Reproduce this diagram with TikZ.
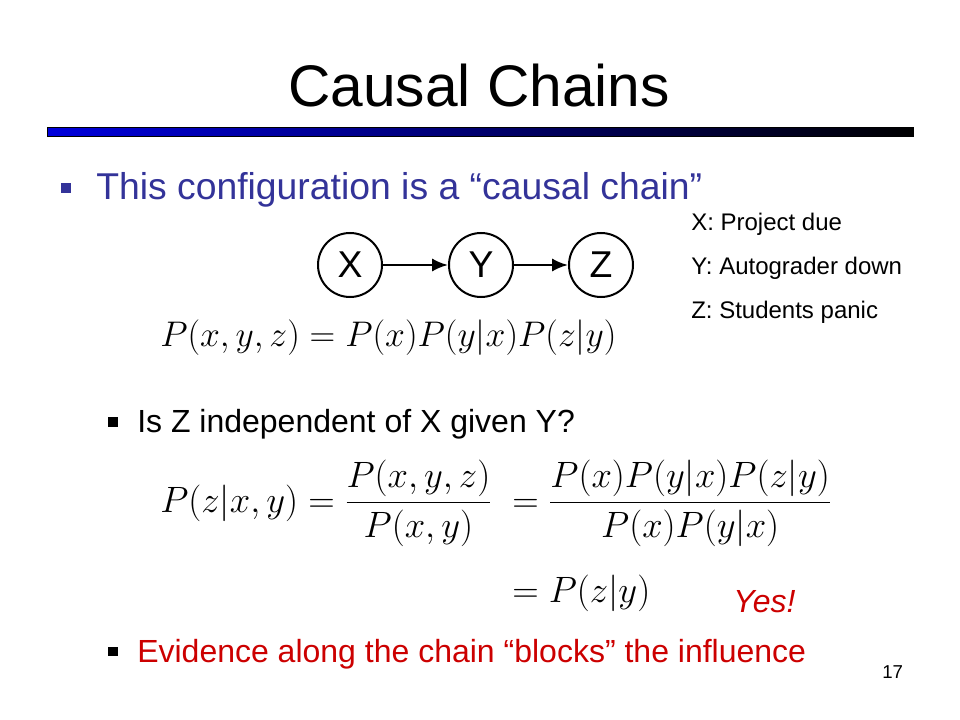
\RequirePackage{fix-cm}
\documentclass[tikz,border=0pt]{standalone}
\usepackage[no-math]{fontspec}
\setmainfont{Liberation Sans}
\usepackage{amsmath}
\usepackage{xcolor}
\usetikzlibrary{arrows.meta}
\definecolor{slideblue}{RGB}{51,51,153}
\definecolor{slidered}{RGB}{204,0,0}
\definecolor{barblue}{RGB}{0,0,220}
\tikzset{
    every node/.style={inner sep=0pt, font=\fontsize{24}{29}\selectfont},
    var/.style={draw, circle, line width=1.5pt, minimum size=48pt, font=\fontsize{28}{34}\selectfont},
    link/.style={-{Latex[length=12pt,width=10pt]}, line width=2pt},
    eq/.style={font=\fontsize{27.5}{33}\selectfont},
    legend/.style={font=\fontsize{18}{22}\selectfont, anchor=base west}
}

\begin{document}
\begin{tikzpicture}[x=0.75pt, y=-0.75pt]
    \useasboundingbox (0,0) rectangle (960,720);

    % Title and bar
    \node[anchor=base, font=\fontsize{44}{53}\selectfont] (title) at (479,107) {Causal Chains};
    \draw[left color=barblue, right color=black, line width=0.75pt] (47,128) rectangle (913,137);

    % First bullet
    \fill[slideblue] (61,183) rectangle (71,193);
    \node[anchor=base west, text=slideblue, font=\fontsize{28}{34}\selectfont] (intro) at (96,200) {This configuration is a “causal chain”};

    % Draw chain
    \node[var] (X) at (350,265) {X};
    \node[var] (Y) at (481,265) {Y};
    \node[var] (Z) at (601,265) {Z};
    \draw[link] (X) -- (Y);
    \draw[link] (Y) -- (Z);

    % Legend
    \foreach \y/\txt in {231/X: Project due, 275/Y: Autograder down, 318/Z: Students panic} {
        \node[legend] at (691,\y) {\txt};
    }

    % Joint distribution
    \node[eq, anchor=base west, font=\fontsize{26.7}{32}\selectfont] (joint) at (160,346) {$P(x,y,z) = P(x)P(y|x)P(z|y)$};

    % Question
    \fill (108,417) rectangle (118,427);
    \node[anchor=base west] (question) at (137,432) {Is Z independent of X given Y?};
    \node[eq, anchor=base west] (eqA) at (160,512) {$\displaystyle P(z|x,y) = \frac{P(x,y,z)}{P(x,y)}$};
    \node[eq, anchor=base west] (eqB) at (512,512) {$\displaystyle = \frac{P(x)P(y|x)P(z|y)}{P(x)P(y|x)}$};
    \node[eq, anchor=base west] (eqC) at (512,602) {$= P(z|y)$};
    \node[anchor=base west, text=slidered, font=\fontsize{24}{29}\selectfont\itshape] (yes) at (733,612) {Yes!};

    % Conclusion
    \fill (108,647) rectangle (118,656);
    \node[anchor=base west, text=slidered] (blocks) at (137,662) {Evidence along the chain “blocks” the influence};

    % Page number
    \node[anchor=base west, font=\fontsize{14}{17}\selectfont] (page) at (882,678) {17};
\end{tikzpicture}
\end{document}
